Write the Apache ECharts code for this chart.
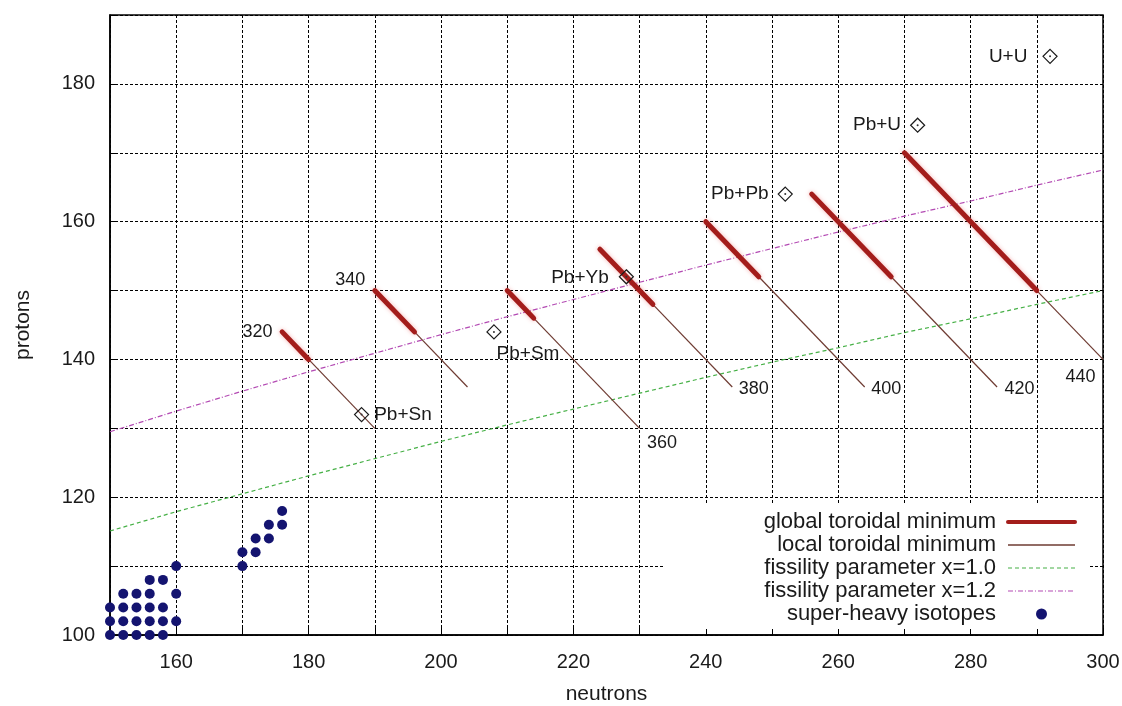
<!DOCTYPE html>
<html>
<head>
<meta charset="utf-8">
<title>Toroidal minima of super-heavy nuclei</title>
<script src="https://cdn.jsdelivr.net/npm/echarts@6/dist/echarts.min.js"></script>
<style>
  html, body { margin: 0; padding: 0; background: #fff; }
  #chart { width: 1122px; height: 706px; }
</style>
</head>
<body>
<div id="chart"></div>
<script>
// Mass numbers A = N + Z of the toroidal-minimum tracks
const massNumbers = [320, 340, 360, 380, 400, 420, 440];
// Neutron number where the global minimum starts / ends, and where the local minimum ends
const globalStartN = [176, 190, 210, 224, 240, 256, 270];
const globalEndN   = [180, 196, 214, 232, 248, 268, 290];
const localEndN    = [190, 204, 230, 244, 264, 284, 300];

// Fissility parameter curves (neutrons, protons)
const fissN   = [150, 160, 170, 180, 190, 200, 210, 220, 230, 240, 250, 260, 270, 280, 290, 300];
const fissZ10 = [115.1, 117.9, 120.5, 123.1, 125.6, 128.1, 130.5, 132.8, 135.1, 137.4, 139.6, 141.7, 143.9, 145.9, 148.0, 150.0];
const fissZ12 = [129.5, 132.5, 135.4, 138.2, 140.9, 143.6, 146.2, 148.7, 151.2, 153.7, 156.1, 158.5, 160.8, 163.0, 165.3, 167.5];

// Known super-heavy isotopes
const isotopeN = [150, 152, 154, 156, 158,
                  150, 152, 154, 156, 158, 160,
                  150, 152, 154, 156, 158,
                  152, 154, 156, 160,
                  156, 158,
                  160,
                  170, 170, 172, 172, 174, 174, 176, 176];
const isotopeZ = [100, 100, 100, 100, 100,
                  102, 102, 102, 102, 102, 102,
                  104, 104, 104, 104, 104,
                  106, 106, 106, 106,
                  108, 108,
                  110,
                  110, 112, 112, 114, 114, 116, 116, 118];

// Fusion reactions (compound nucleus)
const reactionNames = ['Pb+Sn', 'Pb+Sm', 'Pb+Yb', 'Pb+Pb', 'Pb+U', 'U+U'];
const reactionN = [188, 208, 228, 252, 272, 292];
const reactionZ = [132, 144, 152, 164, 174, 184];

const legendNames = ['global toroidal minimum', 'local toroidal minimum',
  'fissility parameter x=1.0', 'fissility parameter x=1.2', 'super-heavy isotopes'];

const FONT = "'Liberation Sans', Arial, Helvetica, sans-serif";
const TEXT = '#1a1a1a';

const COLORS = {
  global: '#a31d1b',
  local: '#6e3b32',
  fiss10: '#46b046',
  fiss12: '#b34ab3',
  isotope: '#141470'
};

// where each mass-number label sits
const massLabelStyle = {
  320: { at: 'start', position: 'left',  distance: 9, offset: [0, 0] },
  340: { at: 'start', position: 'left',  distance: 9, offset: [0, -11] },
  360: { at: 'end',   position: 'right', distance: 7, offset: [0, 15] },
  380: { at: 'end',   position: 'right', distance: 6, offset: [0, 2] },
  400: { at: 'end',   position: 'right', distance: 6, offset: [0, 2] },
  420: { at: 'end',   position: 'right', distance: 7, offset: [0, 2] },
  440: { at: 'end',   position: 'left',  distance: 7, offset: [0, 18] }
};
const reactionLabelStyle = {
  'Pb+Sn': { position: 'right', distance: 5, offset: [0, 0] },
  'Pb+Sm': { position: 'right', distance: 5, offset: [-10, 22] },
  'Pb+Yb': { position: 'left',  distance: 10, offset: [0, 1] },
  'Pb+Pb': { position: 'left',  distance: 9, offset: [0, 0] },
  'Pb+U':  { position: 'left',  distance: 9, offset: [0, 0] },
  'U+U':   { position: 'left',  distance: 15, offset: [0, 0] }
};

const series = [];

series.push({
  name: 'fissility parameter x=1.0', type: 'line', symbol: 'none', silent: true, z: 2,
  data: fissN.map((n, i) => [n, fissZ10[i]]),
  itemStyle: { color: COLORS.fiss10 },
  lineStyle: { color: COLORS.fiss10, width: 1.2, type: [4, 3] }
});
series.push({
  name: 'fissility parameter x=1.2', type: 'line', symbol: 'none', silent: true, z: 2,
  data: fissN.map((n, i) => [n, fissZ12[i]]),
  itemStyle: { color: COLORS.fiss12 },
  lineStyle: { color: COLORS.fiss12, width: 1.2, type: [5, 2, 1, 2] }
});

massNumbers.forEach((A, i) => {
  series.push({
    name: 'local toroidal minimum', type: 'line', symbol: 'none', silent: true, z: 3,
    data: [[globalEndN[i], A - globalEndN[i]], [localEndN[i], A - localEndN[i]]],
    itemStyle: { color: COLORS.local },
    lineStyle: { color: COLORS.local, width: 1.2 }
  });
  series.push({
    name: 'global toroidal minimum', type: 'line', symbol: 'none', silent: true, z: 4,
    data: [[globalStartN[i], A - globalStartN[i]], [globalEndN[i], A - globalEndN[i]]],
    itemStyle: { color: COLORS.global },
    lineStyle: { color: COLORS.global, width: 5, cap: 'round',
                 shadowColor: 'rgba(235,90,90,0.45)', shadowBlur: 4 }
  });
});

// mass-number labels at one end of each track
series.push({
  type: 'scatter', silent: true, z: 6, symbolSize: 1,
  itemStyle: { color: 'rgba(0,0,0,0)', opacity: 1 },
  data: massNumbers.map((A, i) => {
    const s = massLabelStyle[A];
    const n = s.at === 'start' ? globalStartN[i] : localEndN[i];
    return {
      value: [n, A - n],
      label: { show: true, formatter: String(A), position: s.position,
               distance: s.distance, offset: s.offset, opacity: 1,
               fontSize: 18, fontFamily: FONT, color: TEXT }
    };
  })
});

series.push({
  name: 'super-heavy isotopes', type: 'scatter', z: 5, silent: true,
  symbol: 'circle', symbolSize: 10,
  itemStyle: { color: COLORS.isotope, opacity: 1 },
  data: isotopeN.map((n, i) => [n, isotopeZ[i]])
});

series.push({
  type: 'scatter', z: 7, silent: true,
  symbol: 'diamond', symbolSize: 14,
  itemStyle: { color: 'rgba(255,255,255,0)', borderColor: '#1a1a1a', borderWidth: 1.2, opacity: 1 },
  data: reactionNames.map((name, i) => {
    const s = reactionLabelStyle[name];
    return {
      name: name,
      value: [reactionN[i], reactionZ[i]],
      label: { show: true, formatter: name, position: s.position,
               distance: s.distance, offset: s.offset,
               fontSize: 19, fontFamily: FONT, color: TEXT }
    };
  })
});
series.push({
  type: 'scatter', z: 7, silent: true, symbol: 'circle', symbolSize: 2,
  itemStyle: { color: '#333', opacity: 1 },
  data: reactionNames.map((name, i) => [reactionN[i], reactionZ[i]])
});

// legend entries: line samples without a marker in the middle
const hiddenMarker = { color: 'rgba(0,0,0,0)', borderWidth: 0, opacity: 0 };
const legendData = [
  { name: legendNames[0], itemStyle: hiddenMarker,
    lineStyle: { color: COLORS.global, width: 4, type: 'solid' } },
  { name: legendNames[1], itemStyle: hiddenMarker,
    lineStyle: { color: COLORS.local, width: 1.5, type: 'solid' } },
  { name: legendNames[2], itemStyle: hiddenMarker,
    lineStyle: { color: COLORS.fiss10, width: 1.2, type: [4, 3] } },
  { name: legendNames[3], itemStyle: hiddenMarker,
    lineStyle: { color: COLORS.fiss12, width: 1.2, type: [5, 2, 1, 2] } },
  { name: legendNames[4] }
];

const chart = echarts.init(document.getElementById('chart'), null, { renderer: 'canvas' });
chart.setOption({
  animation: false,
  backgroundColor: '#fff',
  textStyle: { fontFamily: FONT },
  grid: { left: 110, right: 19, top: 15, bottom: 71, show: true,
          outerBoundsMode: 'none', containLabel: false,
          borderColor: '#000', borderWidth: 1.5, backgroundColor: 'transparent' },
  legend: {
    data: legendData,
    orient: 'vertical', right: 34, top: 503, align: 'right',
    itemWidth: 67, itemHeight: 11, itemGap: 1,
    padding: [8, 11, 4, 100],
    backgroundColor: '#fff',
    selectedMode: false,
    textStyle: { fontSize: 22, color: TEXT, fontFamily: FONT, padding: [0, 7, 0, 0] }
  },
  xAxis: {
    type: 'value', min: 150, max: 300, interval: 10,
    name: 'neutrons', nameLocation: 'middle', nameGap: 49,
    nameTextStyle: { fontSize: 21, color: TEXT, fontFamily: FONT },
    axisLine: { show: true, lineStyle: { color: '#000', width: 1.5 } },
    axisTick: { show: true, inside: true, length: 7, lineStyle: { color: '#000' } },
    axisLabel: { fontSize: 20, color: TEXT, margin: 17, fontFamily: FONT,
                 formatter: v => (v % 20 === 0 ? String(v) : '') },
    splitLine: { show: true, lineStyle: { color: '#000', width: 1, type: [3, 2] } }
  },
  yAxis: {
    type: 'value', min: 100, max: 190, interval: 10,
    name: 'protons', nameLocation: 'middle', nameGap: 76,
    nameTextStyle: { fontSize: 21, color: TEXT, fontFamily: FONT },
    axisLine: { show: true, lineStyle: { color: '#000', width: 1.5 } },
    axisTick: { show: true, inside: true, length: 7, lineStyle: { color: '#000' } },
    axisLabel: { fontSize: 20, color: TEXT, margin: 15, fontFamily: FONT,
                 formatter: v => (v % 20 === 0 ? String(v) : '') },
    splitLine: { show: true, lineStyle: { color: '#000', width: 1, type: [3, 2] } }
  },
  series: series
});
</script>
</body>
</html>
